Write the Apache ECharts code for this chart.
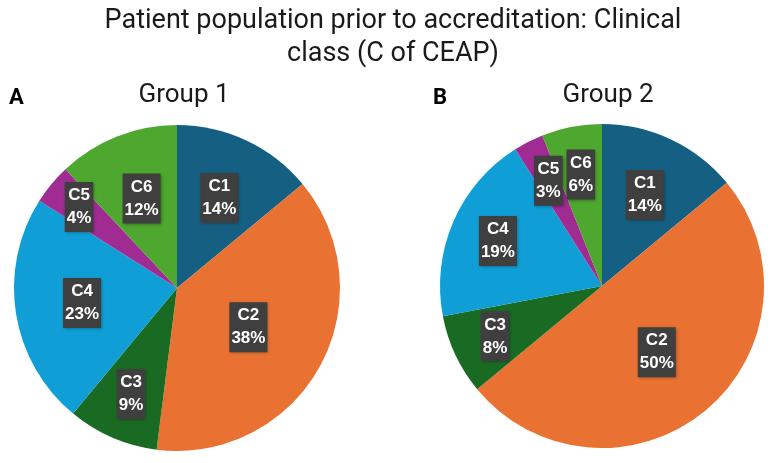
<!DOCTYPE html>
<html>
	<head>
		<meta charset="utf-8">
		<title>Clinical class</title>
		<script src="https://cdn.jsdelivr.net/npm/echarts@6/dist/echarts.min.js"></script>
		<style>
			html, body { margin: 0; padding: 0; background: #fff; }
		</style>
	</head>
	<body>
		<div id="main" style="width: 782px;height: 463px;"></div>
		<script type="text/javascript">
			// data
			var categories = ['C1', 'C2', 'C3', 'C4', 'C5', 'C6'];
			var group1 = [14, 38, 9, 23, 4, 12];
			var group2 = [14, 50, 8, 19, 3, 6];
			var colors = ['#156082', '#E97132', '#196B24', '#0F9ED5', '#A02B93', '#4EA72E'];

			// where each label sits, as a share of the radius (like the original)
			var labelDist1 = [0.61, 0.50, 0.71, 0.59, 0.78, 0.59];
			var labelDist2 = [0.62, 0.53, 0.73, 0.70, 0.73, 0.70];

			var myChart = echarts.init(document.getElementById('main'));

			function toData(values) {
				return values.map(function (v, i) {
					return { name: categories[i], value: v };
				});
			}

			function makePie(values, center, radius, dist) {
				return {
					type: 'pie',
					center: center,
					radius: radius,
					startAngle: 90,
					clockwise: true,
					silent: true,
					color: colors,
					data: toData(values),
					label: {
						show: true,
						position: 'inside',
						formatter: '{b}\n{c}%',
						color: '#fff',
						fontFamily: 'Liberation Sans, Arial, sans-serif',
						fontWeight: 'bold',
						fontSize: 17,
						lineHeight: 23,
						backgroundColor: '#3f3f3f',
						padding: [3, 2, 1, 2],
						shadowColor: 'rgba(0,0,0,0.35)',
						shadowBlur: 3,
						shadowOffsetX: 1,
						shadowOffsetY: 1
					},
					labelLine: { show: false },
					labelLayout: function (params) {
						var r = params.labelRect;
						var lx = r.x + r.width / 2;
						var ly = r.y + r.height / 2;
						var dx = lx - center[0];
						var dy = ly - center[1];
						var len = Math.sqrt(dx * dx + dy * dy) || 1;
						var d = radius * dist[params.dataIndex];
						return { x: center[0] + dx / len * d, y: center[1] + dy / len * d };
					}
				};
			}

			var option = {
				animation: false,
				title: [{
					text: 'Patient population prior to accreditation: Clinical\nclass (C of CEAP)',
					left: 388,
					top: 0,
					textAlign: 'center',
					textStyle: {
						fontFamily: 'Roboto, sans-serif',
						fontWeight: 'normal',
						fontSize: 27,
						lineHeight: 33,
						color: '#1a1a1a'
					}
				}, {
					text: 'Group 1',
					left: 179,
					top: 77,
					textAlign: 'center',
					textStyle: { fontFamily: 'Roboto, sans-serif', fontWeight: 'normal', fontSize: 26, color: '#1a1a1a' }
				}, {
					text: 'Group 2',
					left: 603,
					top: 77,
					textAlign: 'center',
					textStyle: { fontFamily: 'Roboto, sans-serif', fontWeight: 'normal', fontSize: 26, color: '#1a1a1a' }
				}, {
					text: 'A',
					left: 4,
					top: 82,
					textStyle: { fontFamily: 'Roboto, sans-serif', fontWeight: 'bold', fontSize: 22, color: '#000' }
				}, {
					text: 'B',
					left: 428,
					top: 82,
					textStyle: { fontFamily: 'Roboto, sans-serif', fontWeight: 'bold', fontSize: 22, color: '#000' }
				}],
				series: [
					makePie(group1, [177, 288], 163, labelDist1),
					makePie(group2, [602, 286], 162, labelDist2)
				]
			};

			myChart.setOption(option);
		</script>
	</body>
</html>
